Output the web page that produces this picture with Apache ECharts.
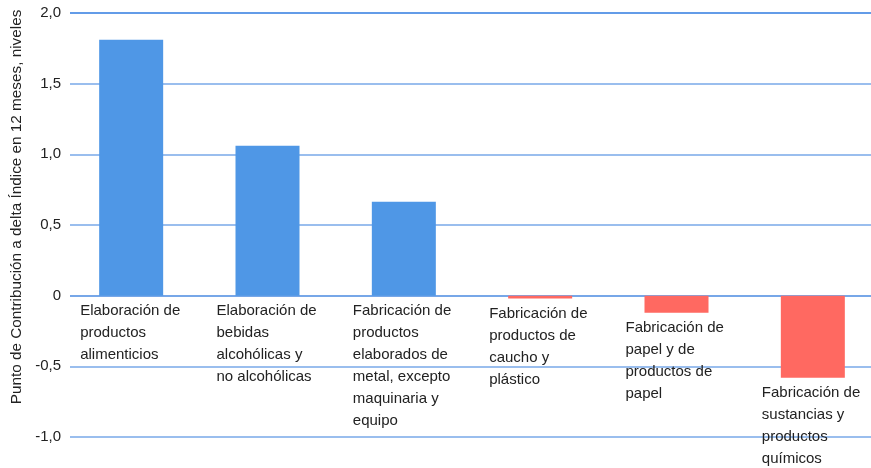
<!DOCTYPE html>
<html>
<head>
<meta charset="utf-8">
<script src="https://cdn.jsdelivr.net/npm/echarts@6/dist/echarts.min.js"></script>
<style>html,body{margin:0;padding:0;background:#fff}#c{width:871px;height:468px}</style>
</head>
<body>
<div id="c"></div>
<script>
var categories = [
  "Elaboración de productos alimenticios",
  "Elaboración de bebidas alcohólicas y no alcohólicas",
  "Fabricación de productos elaborados de metal, excepto maquinaria y equipo",
  "Fabricación de productos de caucho y plástico",
  "Fabricación de papel y de productos de papel",
  "Fabricación de sustancias y productos químicos"
];
var wrappedLabels = [
  "Elaboración de\nproductos\nalimenticios",
  "Elaboración de\nbebidas\nalcohólicas y\nno alcohólicas",
  "Fabricación de\nproductos\nelaborados de\nmetal, excepto\nmaquinaria y\nequipo",
  "Fabricación de\nproductos de\ncaucho y\nplástico",
  "Fabricación de\npapel y de\nproductos de\npapel",
  "Fabricación de\nsustancias y\nproductos\nquímicos"
];
var values = [1.81, 1.06, 0.665, -0.02, -0.12, -0.58];
var yTicks = { min: -1.0, max: 2.0, interval: 0.5 };
var yTitle = "Punto de Contribución a delta Índice en 12 meses, niveles";

var FONT = '"Liberation Sans", Arial, sans-serif';
var chart = echarts.init(document.getElementById('c'), null, { renderer: 'canvas' });
chart.setOption({
  animation: false,
  backgroundColor: '#ffffff',
  grid: [
    { left: 63, top: 13, width: 818, height: 424, containLabel: false, outerBoundsMode: 'none' },
    { left: 70, top: 13, right: 0, height: 424, containLabel: false, outerBoundsMode: 'none' }
  ],
  xAxis: [{
    type: 'category',
    gridIndex: 0,
    data: categories,
    axisLine: { show: false },
    axisTick: { show: false },
    axisLabel: { show: false },
    splitLine: { show: false }
  }, {
    type: 'value',
    gridIndex: 1,
    min: 0, max: 1,
    show: false
  }],
  yAxis: [{
    type: 'value',
    gridIndex: 0,
    min: yTicks.min, max: yTicks.max, interval: yTicks.interval,
    show: false,
    splitLine: { show: false }
  }, {
    type: 'value',
    gridIndex: 1,
    min: yTicks.min, max: yTicks.max, interval: yTicks.interval,
    name: yTitle,
    nameLocation: 'middle',
    nameGap: 45,
    nameRotate: 90,
    nameTextStyle: { fontFamily: FONT, fontSize: 15.3, color: '#222', padding: [0, 0, 0, 36] },
    axisLine: { show: false },
    axisTick: { show: false },
    axisLabel: {
      fontFamily: FONT, fontSize: 15, color: '#222', margin: 9,
      formatter: function (v) {
        if (Math.abs(v) < 1e-9) return '0';
        return v.toFixed(1).replace('.', ',');
      }
    },
    splitLine: {
      lineStyle: {
        width: 1.5,
        color: ['#79a9e8', '#79a9e8', '#4a8ae0', '#79a9e8', '#79a9e8', '#79a9e8', '#2f7be0']
      }
    }
  }],
  series: [{
    type: 'bar',
    xAxisIndex: 0,
    yAxisIndex: 0,
    barWidth: 64,
    data: values.map(function (v, i) {
      return {
        value: v,
        itemStyle: { color: v >= 0 ? '#4f97e6' : '#ff6961' }
      };
    }),
    label: {
      show: true,
      position: [-19, '100%'],
      align: 'left',
      verticalAlign: 'top',
      offset: [0, 4],
      fontFamily: FONT,
      fontSize: 15,
      lineHeight: 22,
      color: '#222',
      formatter: function (p) { return wrappedLabels[p.dataIndex]; }
    }
  }]
});
</script>
</body>
</html>
